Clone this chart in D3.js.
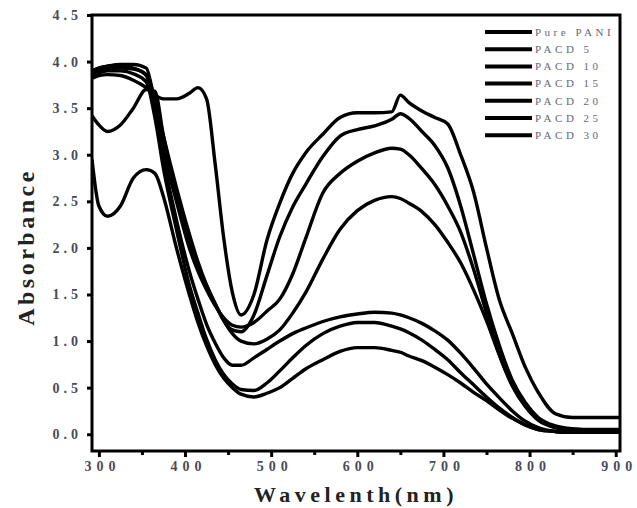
<!DOCTYPE html>
<html>
<head>
<meta charset="utf-8">
<script src="https://cdn.jsdelivr.net/npm/d3@7"></script>
<style>
	body { margin: 0; background: #fff; }
	svg { display: block; }
	.tick text { font-family: 'Liberation Serif', 'DejaVu Serif', serif; font-weight: bold; }
</style>
</head>
<body>
<div class="chart"></div>
<script>
// shared wavelength grid (nm)
const wavelengths = [292, 300, 310, 325, 340, 355, 365, 375, 390, 405, 415, 425, 435, 445, 455, 465, 480, 495, 510, 525, 540, 560, 580, 600, 620, 640, 650, 660, 675, 690, 705, 720, 735, 750, 765, 780, 795, 810, 830, 850, 875, 905]

const seriesNames = ['Pure PANI', 'PACD 5', 'PACD 10', 'PACD 15', 'PACD 20', 'PACD 25', 'PACD 30']

const purePani = [3.82, 3.85, 3.86, 3.85, 3.8, 3.72, 3.64, 3.6, 3.6, 3.66, 3.72, 3.6, 2.9, 2.1, 1.52, 1.28, 1.5, 2.08, 2.48, 2.8, 3.02, 3.22, 3.4, 3.45, 3.45, 3.46, 3.64, 3.56, 3.47, 3.4, 3.33, 3.0, 2.6, 2.0, 1.44, 1.08, 0.72, 0.45, 0.22, 0.18, 0.18, 0.18]
const pacd5 = [3.88, 3.9, 3.92, 3.93, 3.92, 3.86, 3.6, 3.2, 2.65, 2.15, 1.85, 1.6, 1.4, 1.22, 1.12, 1.1, 1.28, 1.7, 2.12, 2.44, 2.68, 2.98, 3.2, 3.27, 3.31, 3.38, 3.44, 3.39, 3.25, 3.1, 2.86, 2.45, 1.93, 1.4, 0.95, 0.58, 0.34, 0.18, 0.09, 0.06, 0.05, 0.05]
const pacd10 = [3.9, 3.93, 3.95, 3.97, 3.97, 3.93, 3.55, 3.05, 2.5, 2.0, 1.75, 1.55, 1.38, 1.25, 1.17, 1.15, 1.2, 1.32, 1.45, 1.72, 2.1, 2.59, 2.8, 2.93, 3.02, 3.07, 3.06, 3.0, 2.85, 2.68, 2.45, 2.17, 1.77, 1.3, 0.85, 0.52, 0.3, 0.16, 0.08, 0.05, 0.04, 0.04]
const pacd15 = [3.42, 3.32, 3.25, 3.32, 3.5, 3.7, 3.68, 3.2, 2.55, 2.05, 1.8, 1.6, 1.4, 1.22, 1.08, 1.0, 0.97, 1.02, 1.12, 1.3, 1.52, 1.88, 2.2, 2.4, 2.51, 2.55, 2.53, 2.48, 2.39, 2.25, 2.06, 1.84, 1.55, 1.22, 0.85, 0.52, 0.3, 0.15, 0.07, 0.04, 0.03, 0.03]
const pacd20 = [3.9, 3.93, 3.95, 3.96, 3.93, 3.85, 3.45, 2.95, 2.3, 1.75, 1.45, 1.18, 0.98, 0.82, 0.74, 0.74, 0.82, 0.91, 1.0, 1.08, 1.14, 1.21, 1.26, 1.29, 1.31, 1.3, 1.28, 1.25, 1.19, 1.11, 1.01, 0.87, 0.71, 0.54, 0.39, 0.25, 0.14, 0.07, 0.03, 0.02, 0.02, 0.02]
const pacd25 = [3.85, 3.88, 3.9, 3.9, 3.87, 3.78, 3.4, 2.85, 2.2, 1.6, 1.3, 1.02, 0.8, 0.64, 0.54, 0.48, 0.47, 0.55, 0.68, 0.82, 0.95, 1.08, 1.16, 1.2, 1.2, 1.16, 1.13, 1.09, 1.01, 0.91, 0.8, 0.66, 0.53, 0.4, 0.28, 0.18, 0.1, 0.05, 0.03, 0.02, 0.02, 0.02]
const pacd30 = [2.95, 2.45, 2.34, 2.45, 2.75, 2.84, 2.8, 2.55, 2.0, 1.5, 1.2, 0.95, 0.75, 0.6, 0.5, 0.43, 0.4, 0.44, 0.5, 0.6, 0.7, 0.8, 0.89, 0.93, 0.93, 0.9, 0.88, 0.84, 0.79, 0.72, 0.64, 0.55, 0.45, 0.36, 0.26, 0.17, 0.1, 0.05, 0.03, 0.02, 0.02, 0.02]

const xTicks = [300, 400, 500, 600, 700, 800, 900]
const xMinorTicks = [350, 450, 550, 650, 750, 850]
const yTicks = [0, 0.5, 1.0, 1.5, 2.0, 2.5, 3.0, 3.5, 4.0, 4.5]

const allSeries = [purePani, pacd5, pacd10, pacd15, pacd20, pacd25, pacd30]

const width = 637
const height = 508
const margin = { top: 15, right: 17, bottom: 57, left: 92 }
const innerW = width - margin.left - margin.right
const innerH = height - margin.top - margin.bottom
const SERIF = "'Liberation Serif', 'DejaVu Serif', serif"

const x = d3.scaleLinear().domain([292, 905]).range([0, innerW])
const y = d3.scaleLinear().domain([-0.18, 4.5]).range([innerH, 0])

const svg = d3.select('.chart').append('svg')
	.attr('width', width)
	.attr('height', height)

const g = svg.append('g')
	.attr('transform', `translate(${margin.left},${margin.top})`)

g.append('clipPath').attr('id', 'clip')
	.append('rect')
	.attr('width', innerW)
	.attr('height', innerH)

// curves
const line = d3.line()
	.x((d, i) => x(wavelengths[i]))
	.y(d => y(d))
	.curve(d3.curveMonotoneX)

g.append('g')
	.attr('clip-path', 'url(#clip)')
	.selectAll('path')
	.data(allSeries)
	.enter().append('path')
		.attr('d', line)
		.attr('fill', 'none')
		.attr('stroke', '#000')
		.attr('stroke-width', 3.4)
		.attr('stroke-linejoin', 'round')

// axes
const xAxis = g.append('g')
	.attr('transform', `translate(0,${innerH})`)
	.call(d3.axisBottom(x).tickValues(xTicks).tickSize(6).tickPadding(6).tickFormat(d3.format('d')))
xAxis.select('.domain').remove()

const xMinor = g.append('g')
	.attr('transform', `translate(0,${innerH})`)
	.call(d3.axisBottom(x).tickValues(xMinorTicks).tickSize(4).tickFormat(''))
xMinor.select('.domain').remove()

const yAxis = g.append('g')
	.call(d3.axisLeft(y).tickValues(yTicks).tickSize(5).tickPadding(9).tickFormat(d3.format('.1f')))
yAxis.select('.domain').remove()

g.selectAll('.tick line')
	.attr('stroke', '#000')
	.attr('stroke-width', 3)

xAxis.selectAll('text')
	.attr('font-size', 14)
	.attr('fill', '#4a4a5a')
	.attr('letter-spacing', '5px')
	.attr('dx', '3px')
	.attr('dy', '0.6em')

yAxis.selectAll('text')
	.attr('font-size', 14)
	.attr('fill', '#4a4a5a')
	.attr('letter-spacing', '4px')
	.attr('dx', '4px')

// frame
g.append('rect')
	.attr('width', innerW)
	.attr('height', innerH)
	.attr('fill', 'none')
	.attr('stroke', '#000')
	.attr('stroke-width', 3)

// axis titles
svg.append('text')
	.attr('x', 356)
	.attr('y', 502)
	.attr('text-anchor', 'middle')
	.attr('font-family', SERIF)
	.attr('font-weight', 'bold')
	.attr('font-size', 22)
	.attr('letter-spacing', '4.5px')
	.attr('fill', '#222')
	.text('Wavelenth(nm)')

svg.append('text')
	.attr('transform', 'translate(34,247) rotate(-90)')
	.attr('text-anchor', 'middle')
	.attr('font-family', SERIF)
	.attr('font-weight', 'bold')
	.attr('font-size', 24)
	.attr('letter-spacing', '3.5px')
	.attr('fill', '#222')
	.text('Absorbance')

// legend
const legend = svg.append('g')
	.attr('transform', 'translate(485,32)')

const item = legend.selectAll('.item')
	.data(seriesNames)
	.enter().append('g')
		.attr('class', 'item')
		.attr('transform', (d, i) => `translate(0,${i * 17.2})`)

item.append('line')
	.attr('x1', 0)
	.attr('x2', 47)
	.attr('stroke', '#000')
	.attr('stroke-width', 4)

item.append('text')
	.attr('x', 50)
	.attr('dy', '0.35em')
	.attr('font-family', SERIF)
	.attr('font-size', 11)
	.attr('letter-spacing', '3.5px')
	.attr('fill', '#667')
	.text(d => d)
</script>
</body>
</html>
